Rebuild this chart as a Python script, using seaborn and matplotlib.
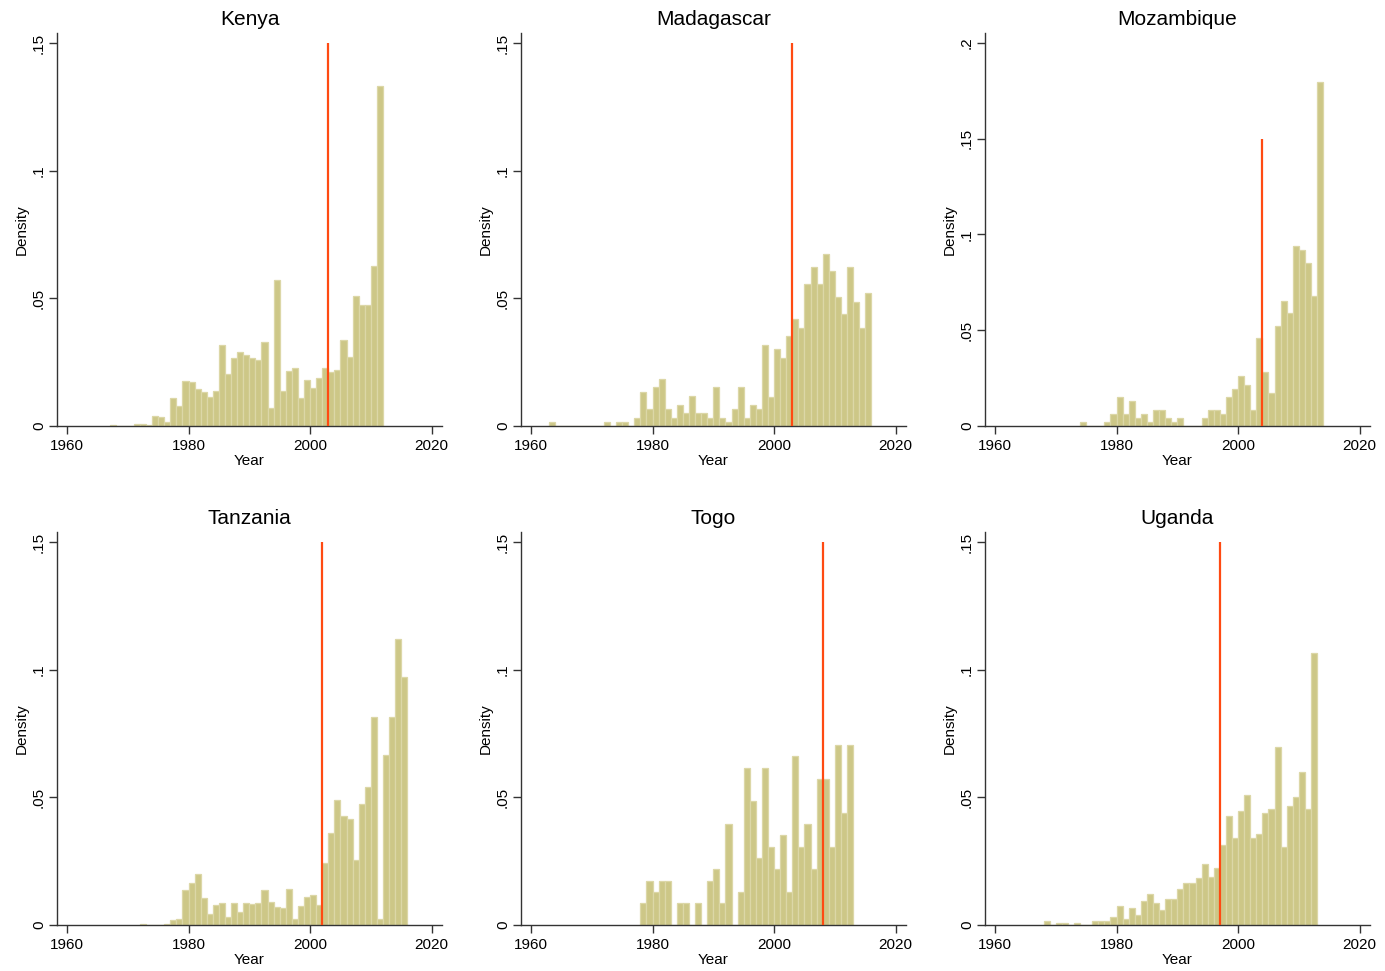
import numpy as np
import pandas as pd
import matplotlib
matplotlib.use("Agg")
import matplotlib.pyplot as plt
import seaborn as sns

kenya_start = 1967
kenya_density = [0.0005, 0, 0, 0, 0.0007, 0.0007, 0.0003, 0.0038, 0.0034, 0.0017,
                 0.011, 0.0077, 0.0178, 0.0173, 0.0143, 0.0134, 0.0112, 0.0139, 0.0319, 0.0204,
                 0.0267, 0.029, 0.0279, 0.0267, 0.0259, 0.0329, 0.0069, 0.0572, 0.0139, 0.0217,
                 0.0228, 0.011, 0.0182, 0.015, 0.0189, 0.0228, 0.0212, 0.022, 0.0337, 0.0272,
                 0.051, 0.0474, 0.0474, 0.0626, 0.133]

madagascar_start = 1963
madagascar_density = [0.0016, 0, 0, 0, 0, 0, 0, 0, 0, 0.0016,
                      0, 0.0016, 0.0016, 0, 0.0031, 0.0133, 0.0065, 0.0153, 0.0184, 0.0065,
                      0.0031, 0.0082, 0.0051, 0.0117, 0.0051, 0.0051, 0.0031, 0.0153, 0.0031, 0.0016,
                      0.0065, 0.0153, 0.0031, 0.0082, 0.0065, 0.0317, 0.0115, 0.0303, 0.0268, 0.0352,
                      0.0419, 0.0385, 0.0556, 0.0624, 0.0556, 0.0674, 0.0607, 0.0505, 0.0437, 0.0624,
                      0.0487, 0.0385, 0.0522]

mozambique_start = 1974
mozambique_density = [0.0021, 0, 0, 0, 0.0021, 0.0063, 0.0151, 0.0063, 0.013, 0.0042,
                      0.0063, 0.0021, 0.0084, 0.0084, 0.0042, 0.0021, 0.0042, 0, 0, 0,
                      0.0042, 0.0084, 0.0084, 0.0063, 0.015, 0.0191, 0.0259, 0.0214, 0.0082, 0.046,
                      0.0282, 0.0174, 0.0522, 0.0654, 0.0588, 0.094, 0.0919, 0.0851, 0.0677, 0.1796]

tanzania_start = 1972
tanzania_density = [0.0003, 0, 0, 0, 0.0004, 0.0018, 0.0022, 0.0136, 0.0163, 0.0198,
                    0.0106, 0.0042, 0.0077, 0.0085, 0.003, 0.0085, 0.005, 0.0085, 0.0081, 0.0085,
                    0.0136, 0.0089, 0.0069, 0.0065, 0.014, 0.0022, 0.0073, 0.0108, 0.0116, 0.0077,
                    0.0243, 0.0362, 0.049, 0.0428, 0.0416, 0.0255, 0.0475, 0.0542, 0.0816, 0.0023,
                    0.0667, 0.0816, 0.112, 0.0973]

togo_start = 1978
togo_density = [0.0086, 0.0172, 0.0129, 0.0172, 0.0172, 0, 0.0086, 0.0086, 0, 0.0086,
                0, 0.0172, 0.0219, 0.0086, 0.0396, 0, 0.0129, 0.0616, 0.0484, 0.0264,
                0.0616, 0.0305, 0.0219, 0.0352, 0.0129, 0.0663, 0.0305, 0.0396, 0.0219, 0.0572,
                0.0572, 0.0305, 0.0706, 0.044, 0.0706]

uganda_start = 1968
uganda_density = [0.0015, 0, 0.0007, 0.0007, 0, 0.0007, 0, 0, 0.0015, 0.0015,
                  0.0015, 0.0031, 0.0074, 0.0022, 0.0067, 0.0039, 0.0093, 0.012, 0.0085, 0.0057,
                  0.0102, 0.0102, 0.014, 0.0165, 0.0165, 0.0186, 0.024, 0.0187, 0.0222, 0.0312,
                  0.0427, 0.034, 0.0445, 0.0508, 0.034, 0.0355, 0.0437, 0.0453, 0.0696, 0.0304,
                  0.0465, 0.05, 0.06, 0.0454, 0.1065]

countries = ["Kenya", "Madagascar", "Mozambique", "Tanzania", "Togo", "Uganda"]
starts = [kenya_start, madagascar_start, mozambique_start, tanzania_start, togo_start, uganda_start]
densities = [kenya_density, madagascar_density, mozambique_density,
             tanzania_density, togo_density, uganda_density]
cutoff_years = [2003, 2003, 2004, 2002, 2008, 1997]

# build one long table
frames = []
for name, start, dens in zip(countries, starts, densities):
    frames.append(pd.DataFrame({"country": name,
                                "year": np.arange(start, start + len(dens)),
                                "density": dens}))
df = pd.concat(frames, ignore_index=True)

sns.set_style("ticks")
plt.rcParams["font.family"] = ["Liberation Sans", "DejaVu Sans"]
plt.rcParams["text.color"] = "black"
plt.rcParams["axes.labelcolor"] = "black"
plt.rcParams["xtick.color"] = "black"
plt.rcParams["ytick.color"] = "black"

bar_color = "#cdc787"
edge_color = "#dcd7a7"
line_color = "#ff4a12"

fig = plt.figure(figsize=(13.85, 9.71), dpi=100)
lefts = [57, 521, 985]
tops = [33, 532]
w_px, h_px = 385, 393

for i, name in enumerate(countries):
    row, col = divmod(i, 3)
    left = lefts[col] / 1385
    bottom = 1 - (tops[row] + h_px) / 971
    ax = fig.add_axes([left, bottom, w_px / 1385, h_px / 971])

    sub = df[(df.country == name) & (df.density > 0)]
    sns.histplot(data=sub, x="year", weights="density", binwidth=1,
                 binrange=(int(sub.year.min()), int(sub.year.max()) + 1), stat="count",
                 color=bar_color, edgecolor=edge_color, linewidth=0.9, alpha=1, ax=ax)
    ax.vlines(cutoff_years[i], 0, 0.15, color=line_color, linewidth=1.6, zorder=5)

    ax.set_xlim(1958.36, 2021.7)
    ax.set_xticks([1960, 1980, 2000, 2020])
    if name == "Mozambique":
        ax.set_ylim(0, 0.2052)
        ax.set_yticks([0, 0.05, 0.1, 0.15, 0.2])
        ax.set_yticklabels(["0", ".05", ".1", ".15", ".2"])
    else:
        ax.set_ylim(0, 0.1539)
        ax.set_yticks([0, 0.05, 0.1, 0.15])
        ax.set_yticklabels(["0", ".05", ".1", ".15"])
    for lab in ax.get_yticklabels():
        lab.set_rotation(90)
        lab.set_va("center")

    ax.tick_params(axis="both", labelsize=11, length=6, width=1, color="#333333")
    ax.tick_params(axis="y", pad=2)
    ax.tick_params(axis="x", pad=3)
    ax.set_title(name, fontsize=15, pad=5.5)
    ax.set_xlabel("Year", fontsize=11, labelpad=1)
    ax.set_ylabel("Density", fontsize=11, labelpad=2)
    sns.despine(ax=ax)
    for s in ["left", "bottom"]:
        ax.spines[s].set_color("#333333")
        ax.spines[s].set_linewidth(1)

fig.savefig("out.png", dpi=100)
